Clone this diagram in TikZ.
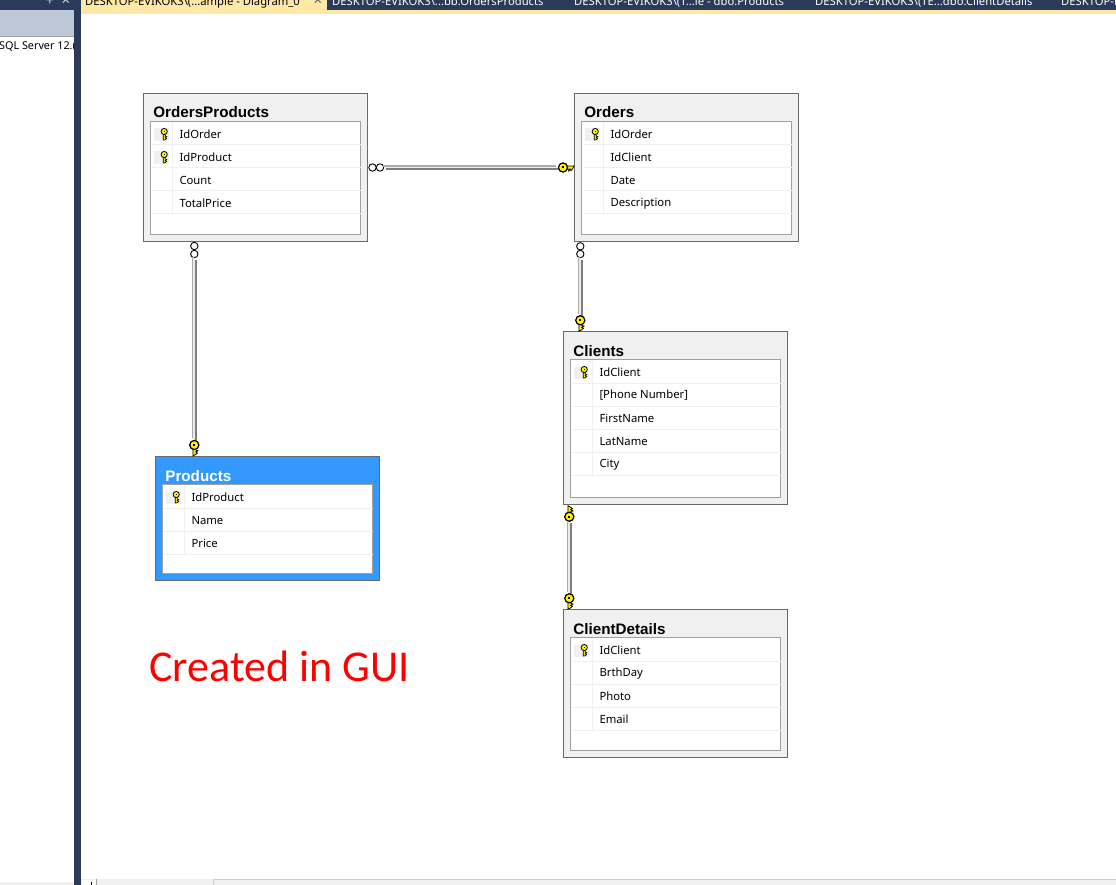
\documentclass[tikz,border=0pt]{standalone}
\usepackage{fontspec}
\setmainfont{Noto Sans}
\newfontfamily\guifont{Carlito}
\newfontfamily\titlefont{Liberation Sans}
\definecolor{navy}{HTML}{2B3A58}
\definecolor{tabgold}{HTML}{FFE8A6}
\definecolor{panelblue}{HTML}{BCC7D8}
\definecolor{panelgray}{HTML}{F0F0F0}
\definecolor{edgegray}{HTML}{696969}
\definecolor{innergray}{HTML}{A0A0A0}
\definecolor{keyyellow}{HTML}{FFF200}
\definecolor{selblue}{HTML}{3399FF}
\definecolor{linkshade}{HTML}{7E7E7E}
\definecolor{linkpale}{HTML}{ABABAB}
\tikzset{
  x=1pt,y=-1pt,
  tableplain/.style={fill=panelgray,draw=edgegray,line width=1pt},
  tablesel/.style={fill=selblue,draw=edgegray,line width=1pt},
  tablebox/.style={anchor=north west,inner sep=0pt,outer sep=0pt},
  titletext/.style={anchor=base west,inner sep=0pt,font=\titlefont\fontsize{15.2}{17}\selectfont\bfseries},
  fieldtext/.style={anchor=west,inner sep=0pt,font=\fontsize{11.3}{13}\selectfont,text=black},
  tabtext/.style={anchor=base west,inner sep=0pt,font=\fontsize{11.25}{13}\selectfont},
  chromemark/.style={anchor=base,inner sep=0pt,font=\fontsize{15}{15}\selectfont},
  crowring/.style={circle,draw=black,fill=white,line width=.9pt,inner sep=0pt,minimum size=7.4pt},
  keyhead/.style={circle,draw=black,fill=keyyellow,line width=1.1pt,inner sep=0pt,minimum size=9pt},
  linklight/.style={draw=linkpale,line width=1.7pt},
  linkdark/.style={draw=linkshade,line width=1.8pt},
  linkcore/.style={draw=white!92!black,line width=1.8pt},
  pics/keyshaft/.style={code={
    \fill[keyyellow,draw=black,line width=.8pt] (-1.4,3.5) -- (1.4,3.5) -- (1.4,5) -- (3.6,5.8) -- (1.4,7) -- (3.2,8) -- (1.4,9.5) -- (-1.4,11) -- cycle;
  }},
  pics/keydot/.style={code={\fill[black] (-1,-1) rectangle (1,1);}},
  pics/smallkey/.style={code={
    \fill[keyyellow,draw=black,line width=.7pt] (-1,2) -- (1,2) -- (1,3.5) -- (2.6,4.2) -- (1,5.2) -- (2.4,6) -- (1,7.2) -- (-.6,7.6) -- (-1,7) -- cycle;
    \fill[keyyellow,draw=black,line width=.8pt] (0,-1) circle[radius=3.1];
    \fill[black] (-.6,-1.8) rectangle (.7,-.6);
  }},
}
\newcommand{\dbtable}[7]{%
  % name, left, top, height, style, title colour, title
  \node[#5,tablebox,minimum width=224pt,minimum height=#4pt] (#1) at (#2,#3) {};
  \node[titletext,text=#6] (#1title) at (#2+9.7,#3+24.5) {#7};
  \node[draw=innergray,fill=white,line width=1pt,tablebox,minimum width=210pt,minimum height=#4pt-35pt] (#1body) at (#2+7,#3+28) {};
}
\newcommand{\keymark}[3]{%
  \fill[panelgray] (#1+10.5,#2+35+23*#3) rectangle (#1+25.5,#2+47.2+23*#3);
  \pic at (#1+20.7,#2+39+23*#3) {smallkey};
}
\newcommand{\nokeymark}[3]{}
\newcommand{\dbrows}[4]{%
  % name, left, top, list of field/key
  \foreach \fname/\fkey [count=\rowi from 0] in {#4} {
    \draw[panelgray,line width=1pt] (#2+8,#3+51.5+23*\rowi) -- (#2+217,#3+51.5+23*\rowi);
    \draw[panelgray,line width=1pt] (#2+28.5,#3+29+23*\rowi) -- (#2+28.5,#3+51.5+23*\rowi);
    \node[fieldtext] (#1row\rowi) at (#2+35.8,#3+41+23*\rowi) {\fname};
    \ifnum\fkey=1 \expandafter\keymark\else\expandafter\nokeymark\fi{#2}{#3}{\rowi}
  }
}
\newcommand{\dblink}[2]{%
  \draw[linklight] ([shift={(-1.6,-1.6)}]#1) -- ([shift={(-1.6,-1.6)}]#2);
  \draw[linkdark] ([shift={(1.6,1.6)}]#1) -- ([shift={(1.6,1.6)}]#2);
  \draw[linkcore] (#1) -- (#2);
}
\begin{document}
\begin{tikzpicture}
\useasboundingbox (0,0) rectangle (1116,885);
\clip (0,0) rectangle (1116,885);
\fill[white] (0,0) rectangle (1116,885);
% window chrome
\node[anchor=base west,inner sep=0pt,font=\fontsize{10.8}{13}\selectfont,text=black] (server) at (-1,49.5) {SQL Server 12.(};
\fill[navy] (0,0) rectangle (1116,10);
\fill[panelblue] (0,10) rectangle (74,36);
\fill[innergray] (0,36) rectangle (74,37);
\fill[navy] (74,0) rectangle (81,885);
\fill[panelgray] (0,882) rectangle (74,885);
\fill[tabgold] (81,10) rectangle (1116,14);
\fill[tabgold] (81,0) rectangle (327,14);
\node[tabtext,text=black] (tabA) at (85,5.5) {DESKTOP-EVIKOK3\textbackslash(...ample - Diagram\_0};
\node[chromemark,text=black!65] (tabAx) at (318,6) {×};
\node[tabtext,text=white] (tabB) at (332,5.5) {DESKTOP-EVIKOK3\textbackslash...bb.OrdersProducts};
\node[tabtext,text=white] (tabC) at (574,5.5) {DESKTOP-EVIKOK3\textbackslash(T...le - dbo.Products};
\node[tabtext,text=white] (tabD) at (815,5.5) {DESKTOP-EVIKOK3\textbackslash(TE...dbo.ClientDetails};
\node[tabtext,text=white] (tabE) at (1061,5.5) {DESKTOP-EVIKOK3};
\node[chromemark,text=white!80!navy] (panelPlus) at (50,6) {+};
\node[chromemark,text=white!80!navy] (panelX) at (66,6) {×};
% scroll bar
\fill[panelgray] (81,879) rectangle (1116,885);
\fill[white] (82,880) rectangle (96,885);
\draw[innergray,line width=1pt] (96.5,879) -- (96.5,885);
\draw[black,line width=.8pt] (91,882) -- (91,885);
\fill[black!6] (97,880) rectangle (213,885);
\draw[black!20,line width=1pt] (213.5,879) -- (213.5,885) (214,879.5) -- (1116,879.5);
% tables
\dbtable{ordersproducts}{143.5}{93.5}{148}{tableplain}{black}{OrdersProducts}
\dbrows{ordersproducts}{143.5}{93.5}{IdOrder/1,IdProduct/1,Count/0,TotalPrice/0}
\dbtable{orders}{574.5}{93.5}{148}{tableplain}{black}{Orders}
\dbrows{orders}{574.5}{93.5}{IdOrder/1,IdClient/0,Date/0,Description/0}
\dbtable{clients}{563.5}{331.5}{173}{tableplain}{black}{Clients}
\dbrows{clients}{563.5}{331.5}{IdClient/1,{[Phone Number]}/0,FirstName/0,LatName/0,City/0}
\dbtable{products}{155.5}{456.5}{124}{tablesel}{white}{Products}
\dbrows{products}{155.5}{456.5}{IdProduct/1,Name/0,Price/0}
\dbtable{clientdetails}{563.5}{609.5}{148}{tableplain}{black}{ClientDetails}
\dbrows{clientdetails}{563.5}{609.5}{IdClient/1,BrthDay/0,Photo/0,Email/0}
% connector ends
\node[crowring] (opEa) at (372.5,167.5) {};
\node[crowring] (opEb) at (380,167.5) {};
\node[keyhead] (ordKey) at (563,167.5) {};
\node[crowring] (opSa) at (194.3,246) {};
\node[crowring] (opSb) at (194.3,254) {};
\node[keyhead] (prodKey) at (194.3,445) {};
\node[crowring] (ordSa) at (580.3,246.3) {};
\node[crowring] (ordSb) at (580.3,254) {};
\node[keyhead] (cliKey) at (580.3,320.3) {};
\node[keyhead] (cliKeyS) at (569.3,516.7) {};
\node[keyhead] (detKey) at (569.3,598.3) {};
% connectors
\dblink{opEb.east}{ordKey.west}
\dblink{opSb.south}{prodKey.north}
\dblink{ordSb.south}{cliKey.north}
\dblink{cliKeyS.south}{detKey.north}
% keys on connectors
\pic[cm={0,-1,-1,0,(0,0)}] at (ordKey) {keyshaft};
\pic at (prodKey) {keyshaft};
\pic at (cliKey) {keyshaft};
\pic[yscale=-1] at (cliKeyS) {keyshaft};
\pic at (detKey) {keyshaft};
\node[keyhead] (ordKeyb) at (ordKey) {};
\node[keyhead] (prodKeyb) at (prodKey) {};
\node[keyhead] (cliKeyb) at (cliKey) {};
\node[keyhead] (cliKeySb) at (cliKeyS) {};
\node[keyhead] (detKeyb) at (detKey) {};
\pic at (ordKey) {keydot};
\pic at (prodKey) {keydot};
\pic at (cliKey) {keydot};
\pic at (cliKeyS) {keydot};
\pic at (detKey) {keydot};
% annotation
\node[anchor=base west,inner sep=0pt,text=red,font=\guifont\fontsize{44}{48}\selectfont] (note) at (149,681) {Created in GUI};
\end{tikzpicture}
\end{document}
